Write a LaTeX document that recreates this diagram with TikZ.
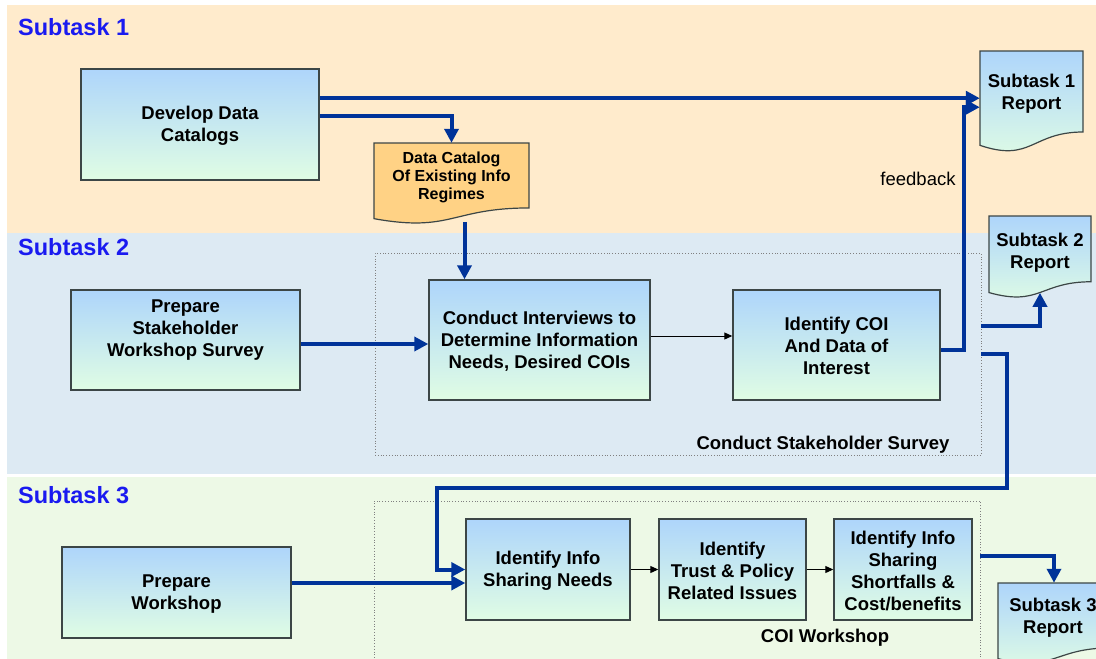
\documentclass[tikz,border=0pt]{standalone}
\usepackage{fontspec}
\setmainfont{Liberation Sans}
\usetikzlibrary{arrows.meta,calc}

\definecolor{peach}{HTML}{FFEBCC}
\definecolor{bandblue}{HTML}{DDEAF3}
\definecolor{bandgreen}{HTML}{EDF9E6}
\definecolor{boxtop}{HTML}{AED5FB}
\definecolor{boxbot}{HTML}{E0FDE4}
\definecolor{docorange}{HTML}{FFD285}
\definecolor{flowblue}{HTML}{003399}
\definecolor{edgegray}{HTML}{3C4646}
\definecolor{titleblue}{HTML}{1A1AF0}

\tikzset{
 procbox/.style={draw=edgegray, line width=1.4pt, top color=boxtop, bottom color=boxbot, inner sep=0pt},
 btext/.style={font=\fontsize{18.5}{22}\selectfont\bfseries, align=center, inner sep=0pt},
 stext/.style={font=\fontsize{16}{18}\selectfont\bfseries, align=center, inner sep=0pt},
 plaintext/.style={font=\fontsize{18.5}{22}\selectfont, inner sep=0pt},
 flow/.style={draw=flowblue, line width=4pt, -{Triangle[length=14pt,width=14pt]}},
 thinflow/.style={draw=black, line width=1pt, -{Triangle[length=8pt,width=7pt]}},
 groupbox/.style={draw=gray, dotted, line width=0.8pt, inner sep=0pt},
 tasktitle/.style={font=\fontsize{23.5}{28}\selectfont\bfseries, text=titleblue, anchor=west, inner sep=0pt},
 hiddenbox/.style={inner sep=0pt, draw=none},
 docblue/.style={draw=edgegray, line width=1.2pt, top color=boxtop, bottom color=boxbot},
 docorangestyle/.style={draw=edgegray, line width=1.2pt, fill=docorange},
}

% #1 style, #2 left, #3 top, #4 right, #5 height
\newcommand{\docshape}[5]{%
  \path[#1] ({#2},{#3}) -- ({#4},{#3}) -- ({#4},{#3+0.802*#5})
   .. controls ({(#2+#4)/2},{#3+0.802*#5}) and ({(#2+#4)/2},{#3+1.1075*#5}) ..
   ({#2},{#3+0.934*#5}) -- cycle;}

\begin{document}
\begin{tikzpicture}[x=1pt,y=-1pt]
\useasboundingbox (0,0) rectangle (1096,659);
\clip (0,0) rectangle (1096,659);

% bands
\fill[peach] (7,5) rectangle (1096,233);
\fill[bandblue] (7,233) rectangle (1096,474);
\fill[bandgreen] (7,477) rectangle (1096,659);

\node[tasktitle] (t1) at (18,27) {Subtask 1};
\node[tasktitle] (t2) at (18,247) {Subtask 2};
\node[tasktitle] (t3) at (18,495) {Subtask 3};

% group boxes
\node[groupbox, minimum width=606pt, minimum height=202pt] (css) at (678,354) {};
\node[btext, anchor=center] (cssT) at (823,445) {Conduct Stakeholder Survey};
\node[groupbox, minimum width=606pt, minimum height=169pt] (cw) at (677,585.5) {};
\node[btext] (cwT) at (825,638) {COI Workshop};

% process boxes
\node[procbox, minimum width=238pt, minimum height=111pt] (dev) at (200,124.5) {};
\node[btext] (devT) at (200,126) {Develop Data\\Catalogs};

\node[procbox, minimum width=229pt, minimum height=100pt] (pss) at (185.5,340) {};
\node[btext] (pssT) at (185.5,330) {Prepare\\Stakeholder\\Workshop Survey};

\node[procbox, minimum width=221pt, minimum height=120pt] (ci) at (539.5,340) {};
\node[btext] (ciT) at (539.5,341) {Conduct Interviews to\\Determine Information\\Needs, Desired COIs};

\node[procbox, minimum width=207pt, minimum height=110pt] (coi) at (836.5,345) {};
\node[btext] (coiT) at (836.5,346) {Identify COI\\And Data of\\Interest};

\node[procbox, minimum width=229pt, minimum height=91pt] (pw) at (176.5,592.5) {};
\node[btext] (pwT) at (176.5,594) {Prepare\\Workshop};

\node[procbox, minimum width=164pt, minimum height=101pt] (isn) at (548,569.5) {};
\node[btext] (isnT) at (548,571) {Identify Info\\Sharing Needs};

\node[procbox, minimum width=147pt, minimum height=101pt] (tp) at (732.5,569.5) {};
\node[btext] (tpT) at (732.5,571) {Identify\\Trust \& Policy\\Related Issues};

\node[procbox, minimum width=138pt, minimum height=101pt] (sfs) at (903,569.5) {};
\node[btext] (sfsT) at (903,571) {Identify Info\\Sharing\\Shortfalls \&\\Cost/benefits};

% documents
\docshape{docorangestyle}{374}{143}{529}{81}
\node[hiddenbox, minimum width=155pt, minimum height=75.6pt] (dc) at (451.5,180.8) {};
\node[stext] (dcT) at (451.5,177) {Data Catalog\\Of Existing Info\\Regimes};

\docshape{docblue}{980}{51}{1083}{101}
\node[hiddenbox, minimum width=103pt, minimum height=94.3pt] (r1) at (1031.5,98.2) {};
\node[btext] (r1T) at (1031.5,94) {Subtask 1\\Report};

\docshape{docblue}{989}{216}{1091}{82}
\node[hiddenbox, minimum width=102pt, minimum height=76.6pt] (r2) at (1040,254.3) {};
\node[btext] (r2T) at (1040,252.5) {Subtask 2\\Report};

\docshape{docblue}{998}{583}{1110}{81}
\node[hiddenbox, minimum width=112pt, minimum height=75.7pt] (r3) at (1054,620.8) {};
\node[btext] (r3T) at (1053,617.5) {Subtask 3\\Report};

\node[plaintext] (fb) at (918,179) {feedback};

% connectors
\draw[flow] (dev.east |- r1.west) -- (r1.west);
\draw[flow] ([yshift=8.5pt]dev.east) -| (dc.north);
\draw[flow] ([xshift=13pt,yshift=-3pt]dc.south) -- ([xshift=13pt]dc.south |- ci.north);
\draw[flow] ([yshift=-4pt]pss.east) -- ([yshift=-4pt]ci.west);
\coordinate (t5) at ([yshift=4pt]ci.east);
\draw[thinflow] (t5) -- (t5 -| coi.west);
\draw[flow] ([yshift=-5pt]coi.east) -- ++(23,0) |- ([yshift=-9pt]r1.west);
\draw[flow] ([yshift=28pt]css.east) -| (r2.south);
\draw[flow] (css.east) -- ++(26,0) -- ++(0,134) -- ++(-570,0) |- (isn.west);
\coordinate (isnin) at ([yshift=-13.5pt]isn.west);
\draw[flow] (pw.east |- isnin) -- (isnin);
\draw[thinflow] (isn.east) -- (tp.west);
\draw[thinflow] (tp.east) -- (sfs.west);
\coordinate (s12) at ([yshift=13.5pt]sfs.east);
\draw[flow] (s12 -| cw.east) -| (r3.north);

\end{tikzpicture}
\end{document}
